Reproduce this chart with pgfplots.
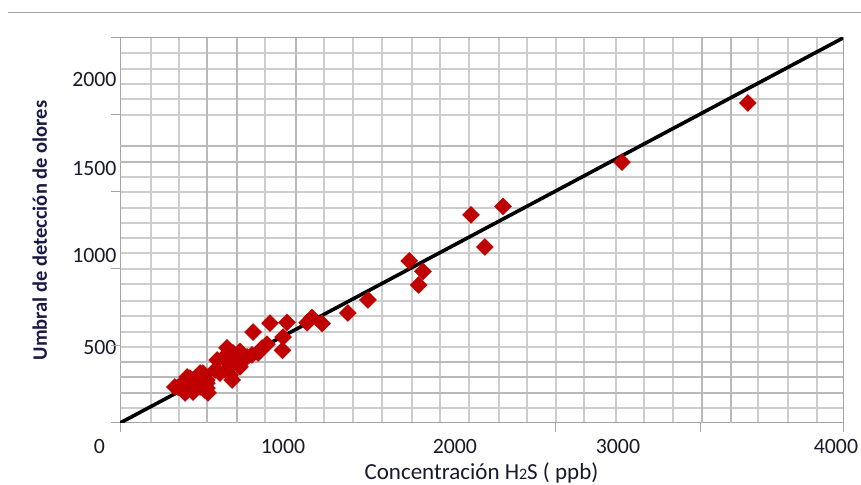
\documentclass[border=0pt]{standalone}
\usepackage{pgfplots}
\pgfplotsset{compat=1.18}
\usepackage{fontspec}
\setmainfont{Carlito}
\definecolor{ptred}{RGB}{192,0,0}
\definecolor{gridc}{RGB}{205,205,205}
\definecolor{gridt}{RGB}{185,185,185}
\definecolor{axc}{RGB}{165,165,165}
\definecolor{txt}{RGB}{25,25,45}
\definecolor{ylab}{RGB}{25,25,70}
\begin{document}
\begin{tikzpicture}[x=1pt,y=1pt]
\useasboundingbox (0,0) rectangle (861,484);
\draw[color=axc, line width=1pt] (8,471.3) -- (861,471.3);
\begin{axis}[
  at={(120pt,61pt)}, anchor=south west,
  scale only axis, width=723pt, height=385pt,
  xmin=0, xmax=4000, ymin=80, ymax=2230,
  axis line style={color=axc, line width=1pt},
  /pgf/number format/assume math mode=true,
  tick label style={font=\fontsize{21.8}{24}\selectfont, text=txt},
  xtick={0,902,1853,2755,3961},
  xticklabels={\makebox[0pt][r]{0\hspace{15pt}},1000,2000,3000,4000},
  ytick={500,1015,1500,2000},
  yticklabels={500\hspace{16pt},1000\hspace{8pt},1500\hspace{1pt},2000},
  xticklabel style={yshift=-13pt},
  major tick length=0pt,
  tick align=outside,
  tick pos=left,
  extra x ticks={0,2407,3209,4000}, extra x tick labels={\empty,\empty,\empty,\empty},
  extra y ticks={80,510,940,1370,1800,2230}, extra y tick labels={\empty,\empty,\empty,\empty,\empty,\empty},
  extra tick style={major tick length=9pt, tick style={color=axc, line width=1pt}, grid=none},
  minor xtick={171.5,326,802,1129,1289,1450,1615,1770,1931,2097,2252,2412,2567,2744,2899,3060,3530,3696,3856},
  minor ytick={2146,2057,1973,1889,1800,1454,1370,1281,1197,1113,1029,940,856,761,678,588,504,164},
  minor tick length=0pt,
  xminorgrids=true, yminorgrids=true,
  minor grid style={color=gridc, line width=1.3pt},
  xlabel={Concentración H{\fontsize{16}{16}\selectfont 2}S ( ppb)},
  xlabel style={at={(axis description cs:0.5,-0.1455)}, anchor=base, font=\fontsize{23}{26}\selectfont, text=txt},
  ylabel={Umbral de detección de olores},
  ylabel style={at={(axis description cs:-0.101,0.5)}, anchor=base, font=\fontsize{20.5}{23}\selectfont\bfseries, text=ylab},
  clip=true,
]
\draw[gridt, line width=2.6pt] (axis cs:481,80) -- (axis cs:481,2230);
\draw[gridt, line width=2.6pt] (axis cs:647,80) -- (axis cs:647,2230);
\draw[gridt, line width=2.6pt] (axis cs:974,80) -- (axis cs:974,2230);
\draw[gridt, line width=2.6pt] (axis cs:3220,80) -- (axis cs:3220,2230);
\draw[gridt, line width=2.6pt] (axis cs:3380,80) -- (axis cs:3380,2230);
\draw[gridt, line width=2.6pt] (axis cs:0,1627) -- (axis cs:4000,1627);
\draw[gridt, line width=2.6pt] (axis cs:0,1538) -- (axis cs:4000,1538);
\draw[gridt, line width=2.6pt] (axis cs:0,421) -- (axis cs:4000,421);
\draw[gridt, line width=2.6pt] (axis cs:0,337) -- (axis cs:4000,337);
\draw[gridt, line width=2.6pt] (axis cs:0,248) -- (axis cs:4000,248);
\addplot[black, line width=3.6pt] coordinates {(0,80) (4000,2230)};
\addplot[only marks, mark=square*, mark size=6pt, mark options={rotate=45, rounded corners=2.5pt, fill=ptred, draw=ptred}] coordinates {
(3474,1867) (2777,1537) (2119,1290) (1942,1242) (2019,1063)
(1600,985) (1676,927) (1652,851) (1372,767) (1261,694)
(1062,668) (1118,636) (1035,640) (924,642) (830,638)
(902,560) (899,485) (736,588) (813,520) (786,499)
(764,471) (730,460) (703,449) (664,480) (625,471)
(592,499) (609,432) (570,443) (537,432) (664,393)
(598,387) (609,348) (620,320) (553,359) (526,376)
(459,359) (443,359) (432,320) (404,320) (387,331)
(371,337) (481,320) (481,303) (459,292) (443,292)
(443,281) (470,264) (481,275) (487,248) (404,253)
(360,248) (349,264) (349,303) (321,281) (304,281)
};
\end{axis}
\end{tikzpicture}
\end{document}
